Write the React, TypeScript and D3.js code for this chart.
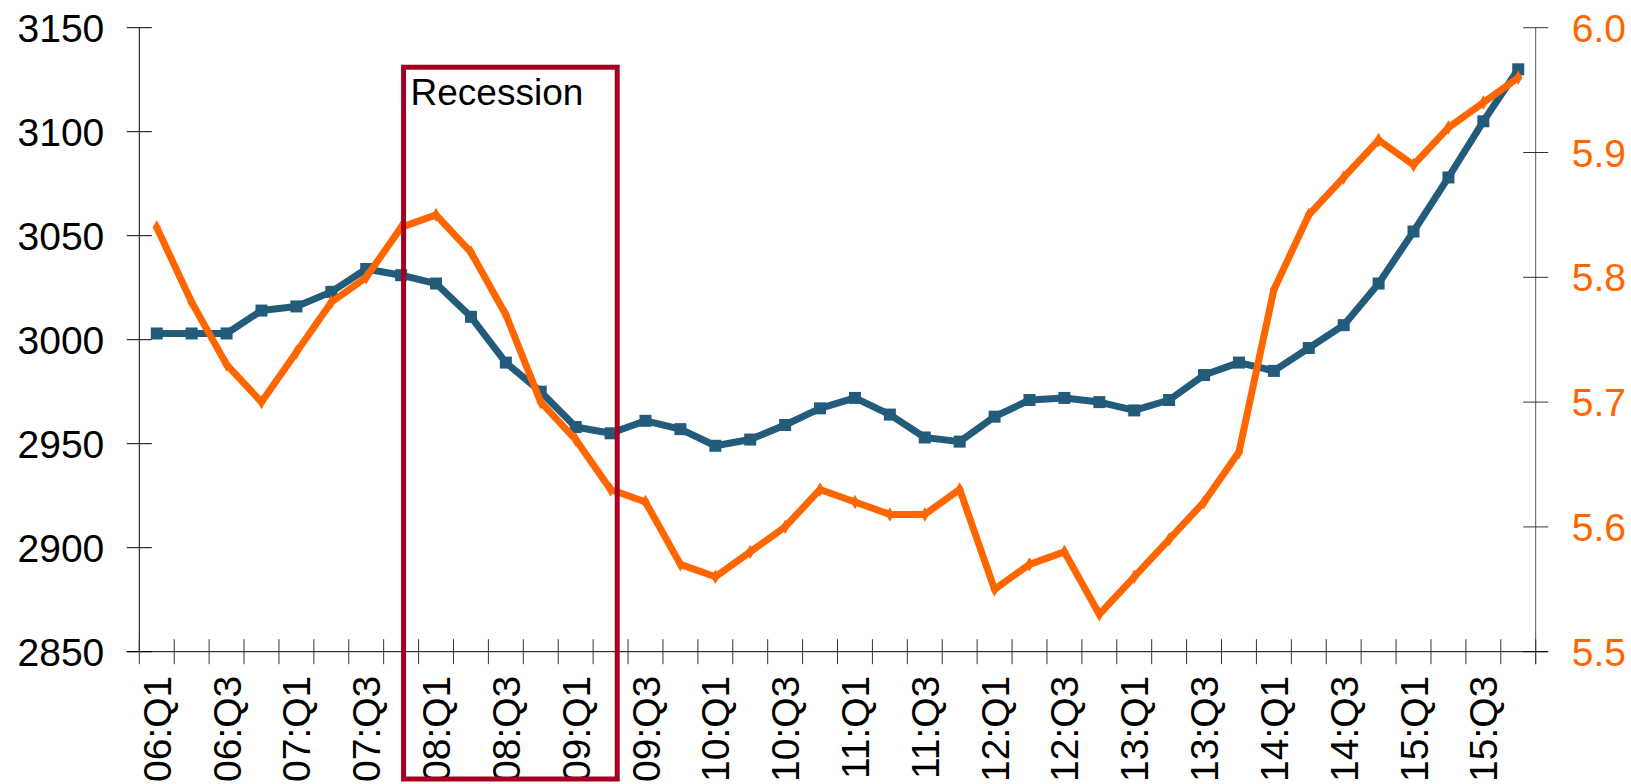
import * as d3 from "d3";
import { useEffect, useRef } from "react";

const WIDTH = 1631;
const HEIGHT = 784;

const quarters = [
    "06:Q1", "06:Q2", "06:Q3", "06:Q4", "07:Q1", "07:Q2", "07:Q3", "07:Q4",
    "08:Q1", "08:Q2", "08:Q3", "08:Q4", "09:Q1", "09:Q2", "09:Q3", "09:Q4",
    "10:Q1", "10:Q2", "10:Q3", "10:Q4", "11:Q1", "11:Q2", "11:Q3", "11:Q4",
    "12:Q1", "12:Q2", "12:Q3", "12:Q4", "13:Q1", "13:Q2", "13:Q3", "13:Q4",
    "14:Q1", "14:Q2", "14:Q3", "14:Q4", "15:Q1", "15:Q2", "15:Q3", "15:Q4",
];

// left axis series (blue, squares)
const blueSeries = [
    3003, 3003, 3003, 3014, 3016, 3023, 3034, 3031,
    3027, 3011, 2989, 2975, 2958, 2955, 2961, 2957,
    2949, 2952, 2959, 2967, 2972, 2964, 2953, 2951,
    2963, 2971, 2972, 2970, 2966, 2971, 2983, 2989,
    2985, 2996, 3007, 3027, 3052, 3078, 3105, 3130,
];

// right axis series (orange)
const orangeSeries = [
    5.84, 5.78, 5.73, 5.70, 5.74, 5.78, 5.80, 5.84,
    5.85, 5.82, 5.77, 5.70, 5.67, 5.63, 5.62, 5.57,
    5.56, 5.58, 5.60, 5.63, 5.62, 5.61, 5.61, 5.63,
    5.55, 5.57, 5.58, 5.53, 5.56, 5.59, 5.62, 5.66,
    5.79, 5.85, 5.88, 5.91, 5.89, 5.92, 5.94, 5.96,
];

const leftTicks = [2850, 2900, 2950, 3000, 3050, 3100, 3150];
const rightTicks = [5.5, 5.6, 5.7, 5.8, 5.9, 6.0];

const recession = { from: "07:Q4", to: "09:Q2", top: 3131, label: "Recession" };

const BLUE = "#235b7b";
const ORANGE = "#ff6600";
const CRIMSON = "#a50021";
const FONT = "'Liberation Sans', Arial, sans-serif";

export default function App() {
    const svgRef = useRef<SVGSVGElement | null>(null);

    useEffect(() => {
        if (!svgRef.current) return;
        const svg = d3.select(svgRef.current);
        svg.selectAll("*").remove();

        const margin = { top: 27.7, right: 95.3, bottom: 132.3, left: 139.3 };
        const innerWidth = WIDTH - margin.left - margin.right;
        const innerHeight = HEIGHT - margin.top - margin.bottom;

        const x = d3.scaleBand<string>().domain(quarters).range([0, innerWidth]);
        const bw = x.bandwidth();
        const cx = (q: string) => (x(q) ?? 0) + bw / 2;
        const yL = d3.scaleLinear().domain([2850, 3150]).range([innerHeight, 0]);
        const yR = d3.scaleLinear().domain([5.5, 6.0]).range([innerHeight, 0]);

        const g = svg.append("g").attr("transform", `translate(${margin.left},${margin.top})`);
        const half = 12.5;

        // left axis
        const left = g.append("g");
        left.append("line").attr("x1", 0).attr("x2", 0).attr("y1", 0).attr("y2", innerHeight).attr("stroke", "#000");
        leftTicks.forEach((t) => {
            left.append("line").attr("x1", -half).attr("x2", half).attr("y1", yL(t)).attr("y2", yL(t)).attr("stroke", "#000");
            left
                .append("text")
                .attr("x", -35)
                .attr("y", yL(t))
                .attr("dy", "0.36em")
                .attr("text-anchor", "end")
                .attr("font-size", 39)
                .attr("font-family", FONT)
                .attr("fill", "#000")
                .text(t);
        });

        // right axis
        const right = g.append("g").attr("transform", `translate(${innerWidth},0)`);
        right.append("line").attr("x1", 0).attr("x2", 0).attr("y1", 0).attr("y2", innerHeight + half).attr("stroke", "#555");
        rightTicks.forEach((t) => {
            right.append("line").attr("x1", -half).attr("x2", half).attr("y1", yR(t)).attr("y2", yR(t)).attr("stroke", "#333");
            right
                .append("text")
                .attr("x", 36)
                .attr("y", yR(t))
                .attr("dy", "0.36em")
                .attr("font-size", 39)
                .attr("font-family", FONT)
                .attr("fill", ORANGE)
                .text(d3.format(".1f")(t));
        });

        // x axis
        const bottom = g.append("g").attr("transform", `translate(0,${innerHeight})`);
        bottom.append("line").attr("x1", -half).attr("x2", innerWidth + half).attr("stroke", "#000");
        const edges = quarters.map((q) => x(q) ?? 0).concat([innerWidth]);
        edges.forEach((e) => {
            bottom.append("line").attr("x1", e).attr("x2", e).attr("y1", -half).attr("y2", half).attr("stroke", "#333");
        });
        quarters.forEach((q, i) => {
            if (i % 2 !== 0) return;
            bottom
                .append("text")
                .attr("transform", `translate(${cx(q)},24) rotate(-90)`)
                .attr("dy", "0.36em")
                .attr("text-anchor", "end")
                .attr("font-size", 39)
                .attr("font-family", FONT)
                .attr("fill", "#000")
                .text(q);
        });

        // blue line with square markers
        const blueLine = d3
            .line<number>()
            .x((_, i) => cx(quarters[i]))
            .y((d) => yL(d));
        g.append("path").datum(blueSeries).attr("d", blueLine).attr("fill", "none").attr("stroke", BLUE).attr("stroke-width", 7).attr("stroke-linejoin", "round");
        g.selectAll("rect.blue-mark")
            .data(blueSeries)
            .enter()
            .append("rect")
            .attr("x", (_, i) => cx(quarters[i]) - 6)
            .attr("y", (d) => yL(d) - 6)
            .attr("width", 12)
            .attr("height", 12)
            .attr("fill", BLUE);

        // orange line with small diamond markers
        const orangeLine = d3
            .line<number>()
            .x((_, i) => cx(quarters[i]))
            .y((d) => yR(d));
        g.append("path").datum(orangeSeries).attr("d", orangeLine).attr("fill", "none").attr("stroke", ORANGE).attr("stroke-width", 7).attr("stroke-linejoin", "round");
        const diamond = d3.symbol().type(d3.symbolDiamond).size(60);
        g.selectAll("path.orange-mark")
            .data(orangeSeries)
            .enter()
            .append("path")
            .attr("d", diamond)
            .attr("transform", (d, i) => `translate(${cx(quarters[i])},${yR(d)})`)
            .attr("fill", ORANGE);

        // recession box
        const bx0 = (x(recession.from) ?? 0) + bw * 0.57;
        const bx1 = (x(recession.to) ?? 0) + bw * 0.69;
        const by0 = yL(recession.top);
        const by1 = HEIGHT - margin.top - 5;
        g.append("rect")
            .attr("x", bx0)
            .attr("y", by0)
            .attr("width", bx1 - bx0)
            .attr("height", by1 - by0)
            .attr("fill", "none")
            .attr("stroke", CRIMSON)
            .attr("stroke-width", 5);
        g.append("text")
            .attr("x", bx0 + 7)
            .attr("y", by0 + 38)
            .attr("font-size", 37)
            .attr("font-family", FONT)
            .attr("fill", "#000")
            .text(recession.label);

        return () => {
            svg.selectAll("*").remove();
        };
    }, []);

    return (
        <svg
            ref={svgRef}
            width={WIDTH}
            height={HEIGHT}
            style={{ position: "absolute", left: 0, top: 0, background: "#fff", display: "block" }}
        />
    );
}
